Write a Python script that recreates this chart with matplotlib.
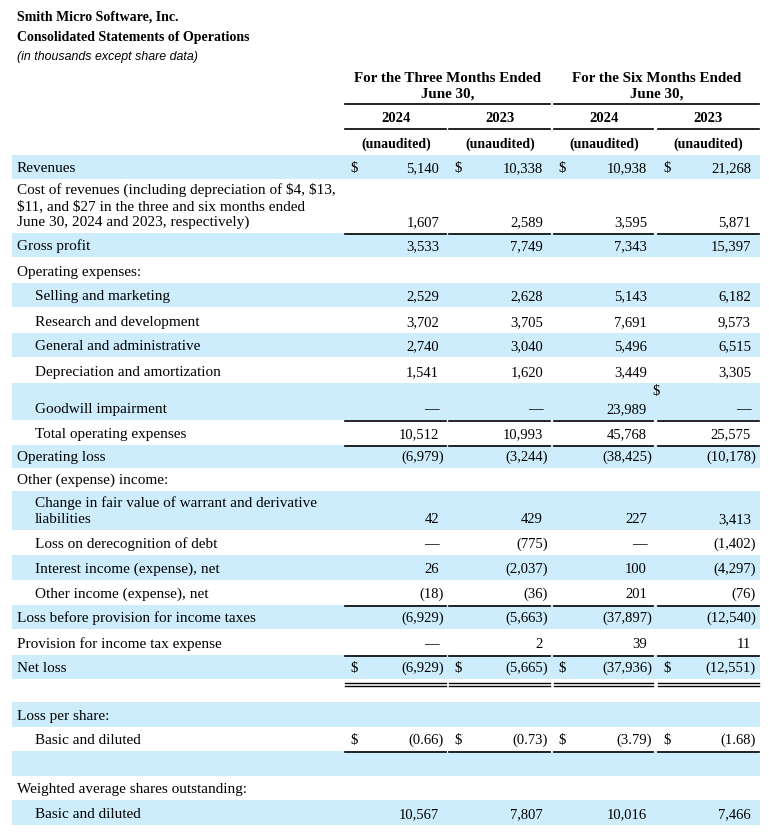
import matplotlib.pyplot as plt

# Texts of the statement
company = "Smith Micro Software, Inc."
statement = "Consolidated Statements of Operations"
units = "(in thousands except share data)"
period_heads = ["For the Three Months Ended", "For the Six Months Ended"]
period_sub = "June 30,"
years = ["2024", "2023", "2024", "2023"]
audit_note = "(unaudited)"

row_labels = [
    "Revenues",
    "Cost of revenues (including depreciation of $4, $13,\n$11, and $27 in the three and six months ended\nJune 30, 2024 and 2023, respectively)",
    "Gross profit",
    "Operating expenses:",
    "Selling and marketing",
    "Research and development",
    "General and administrative",
    "Depreciation and amortization",
    "Goodwill impairment",
    "Total operating expenses",
    "Operating loss",
    "Other (expense) income:",
    "Change in fair value of warrant and derivative\nliabilities",
    "Loss on derecognition of debt",
    "Interest income (expense), net",
    "Other income (expense), net",
    "Loss before provision for income taxes",
    "Provision for income tax expense",
    "Net loss",
    "",
    "Loss per share:",
    "Basic and diluted",
    "",
    "Weighted average shares outstanding:",
    "Basic and diluted",
]
indented = [0, 0, 0, 0, 1, 1, 1, 1, 1, 1, 0, 0, 1, 1, 1, 1, 0, 0, 0, 0, 0, 1, 0, 0, 1]

# None = empty cell, 0 = dash
q3_2024 = [5140, 1607, 3533, None, 2529, 3702, 2740, 1541, 0, 10512, -6979, None,
           42, 0, 26, -18, -6929, 0, -6929, None, None, -0.66, None, None, 10567]
q3_2023 = [10338, 2589, 7749, None, 2628, 3705, 3040, 1620, 0, 10993, -3244, None,
           429, -775, -2037, -36, -5663, 2, -5665, None, None, -0.73, None, None, 7807]
h1_2024 = [10938, 3595, 7343, None, 5143, 7691, 5496, 3449, 23989, 45768, -38425, None,
           227, 0, 100, 201, -37897, 39, -37936, None, None, -3.79, None, None, 10016]
h1_2023 = [21268, 5871, 15397, None, 6182, 9573, 6515, 3305, 0, 25575, -10178, None,
           3413, -1402, -4297, -76, -12540, 11, -12551, None, None, -1.68, None, None, 7466]
columns = [q3_2024, q3_2023, h1_2024, h1_2023]

# layout (pixels)
row_bottom = [179, 233, 257, 283, 307, 333, 357, 383, 420, 445, 468, 491, 530, 555,
              580, 605, 629, 655, 679, 702, 727, 751, 776, 800, 825]
first_top = 155
underline_after = {1: 1, 8: 1, 9: 1, 15: 1, 17: 1, 18: 2, 21: 1}
val_right = [439, 543, 647, 751]
dollar_x = [350, 454, 558, 663]
seg = [(345, 446), (449, 550), (554, 653), (658, 759)]
col_center = [396, 500, 604, 708]
blue = "#cdedfc"
ink = "#000000"

plt.rcParams["font.family"] = ["Liberation Serif", "DejaVu Serif"]
plt.rcParams["text.parse_math"] = False
fs_label = 11
fs_num = 10.5

fig = plt.figure(figsize=(7.69, 8.40), dpi=100)
ax = fig.add_axes([0, 0, 1, 1])
ax.set_xlim(0, 769)
ax.set_ylim(840, 0)
ax.axis("off")

# title block
ax.text(17, 17, company, fontsize=10, fontweight="bold", va="center", color=ink)
ax.text(17, 37, statement, fontsize=10, fontweight="bold", va="center", color=ink)
ax.text(17, 57, units, fontsize=8.9, style="italic", va="center", color=ink,
        family=["Liberation Sans", "DejaVu Sans"])

# column heads
for k, head in enumerate(period_heads):
    cx = (seg[2 * k][0] + seg[2 * k + 1][1]) / 2
    ax.text(cx, 78, head, fontsize=10.8, fontweight="bold", ha="center", va="center", color=ink)
    ax.text(cx, 94, period_sub, fontsize=10.8, fontweight="bold", ha="center", va="center", color=ink)
    ax.plot([seg[2 * k][0], seg[2 * k + 1][1]], [104, 104], color="black", lw=1.2)
for j in range(4):
    ax.text(col_center[j], 118, years[j], fontsize=10.5, fontweight="bold", ha="center", va="center", color=ink)
    ax.plot(seg[j], [129, 129], color="black", lw=1.2)
    ax.text(col_center[j], 144, audit_note, fontsize=10, fontweight="bold", ha="center", va="center", color=ink)


def fmt(v, per_share):
    if v is None:
        return ""
    if v == 0:
        return "\u2014"
    s = f"{abs(v):.2f}" if per_share else f"{abs(v):,}"
    return f"({s})" if v < 0 else s


top = first_top
for i, label in enumerate(row_labels):
    bottom = row_bottom[i]
    if i % 2 == 0:
        ax.fill_between([12, 760], top, bottom, color=blue, lw=0)
    base = bottom - 7
    lines = label.split("\n")
    x0 = 35 if indented[i] else 17
    for n, line in enumerate(reversed(lines)):
        ax.text(x0, base - 16 * n, line, fontsize=fs_label, va="baseline", color=ink)
    per_share = (i == 21)
    with_dollar = label == "Net loss" or label == "Revenues" or per_share
    for j, col in enumerate(columns):
        s = fmt(col[i], per_share)
        if not s:
            continue
        xr = val_right[j] + (5 if s.startswith("(") else 0)
        ax.text(xr, base, s, fontsize=fs_num, ha="right", va="baseline", color=ink)
        if with_dollar:
            ax.text(dollar_x[j], base, "$", fontsize=fs_num, va="baseline", color=ink)
    if i in underline_after:
        for j in range(4):
            if underline_after[i] == 1:
                ax.plot(seg[j], [bottom + 1, bottom + 1], color="black", lw=1.2)
            else:
                ax.plot(seg[j], [bottom + 4, bottom + 4], color="black", lw=1.0)
                ax.plot(seg[j], [bottom + 7, bottom + 7], color="black", lw=1.0)
    top = bottom

# stray dollar sign above the goodwill figure
ax.text(656, 392, "$", fontsize=fs_num, ha="center", va="center", color=ink)

fig.savefig("out.png", dpi=100)
